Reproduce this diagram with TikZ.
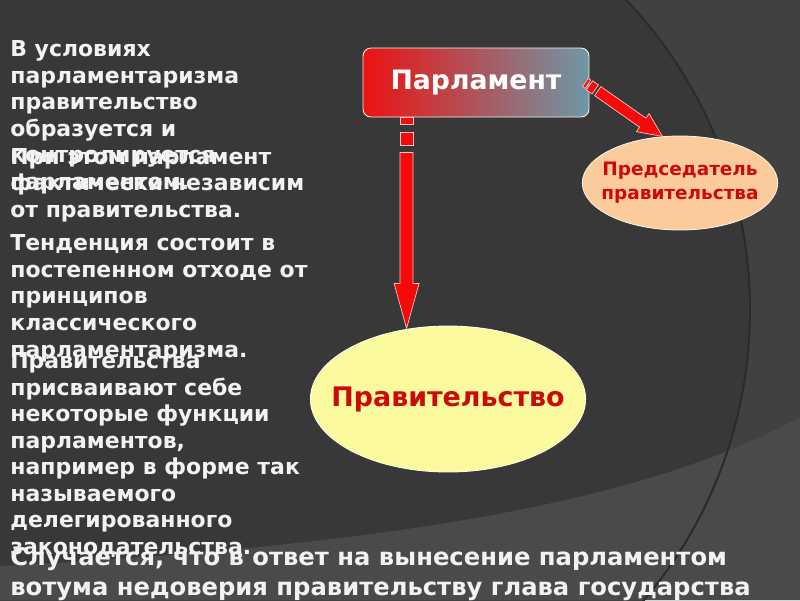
\documentclass[tikz,border=0pt]{standalone}
\usepackage{fontspec}
\setmainfont{DejaVu Sans}
\usetikzlibrary{calc,positioning,shapes.geometric}
\definecolor{slate}{HTML}{383838}
\definecolor{slatelight}{HTML}{414141}
\definecolor{slateband}{HTML}{4A4A4A}
\definecolor{arcline}{HTML}{2A2A2A}
\definecolor{chalk}{HTML}{F2F2F2}
\definecolor{parlred}{HTML}{EC1212}
\definecolor{parlmid}{HTML}{CA3844}
\definecolor{parlteal}{HTML}{6E98A6}
\definecolor{arrred}{HTML}{F50A0A}
\definecolor{peach}{HTML}{FCCB9B}
\definecolor{paleyellow}{HTML}{FCFA9E}
\definecolor{darkred}{HTML}{CC0A0A}
\tikzset{
  slidetext/.style={anchor=base west,align=left,inner sep=0pt,text=chalk,
                    font=\bfseries\fontsize{12.5}{15.1}\selectfont},
  parlbox/.style={draw=white!90!gray,line width=0.5pt,rounded corners=4.5pt,
                  left color=parlred,middle color=parlmid,right color=parlteal,
                  minimum width=4.52cm,minimum height=1.38cm,text=white,
                  font=\bfseries\fontsize{15.2}{16}\selectfont},
  chairell/.style={ellipse,draw=white!70!peach,fill=peach,line width=0.5pt,
                   minimum width=3.9cm,minimum height=1.88cm,
                   inner xsep=-5.4pt,inner ysep=0pt,
                   align=center,text=darkred,
                   font=\bfseries\fontsize{10.5}{13.6}\selectfont},
  govell/.style={ellipse,draw=white!70!paleyellow,fill=paleyellow,line width=0.5pt,
                 minimum width=5.4cm,minimum height=2.92cm,
                 inner xsep=-11pt,inner ysep=0pt,
                 text=darkred,font=\bfseries\fontsize{15.3}{16}\selectfont},
  arrowbody/.style={fill=arrred,draw=white!75!red,line width=0.4pt,line join=miter}
}
\begin{document}
\begin{tikzpicture}[x=0.02cm,y=-0.02cm]
  \useasboundingbox (0,0) rectangle (800,600);
  % slide background
  \fill[slate] (0,0) rectangle (800,600);
  \begin{scope}
    \clip (0,0) rectangle (800,600);
    \fill[slatelight,even odd rule] (0,0) rectangle (800,600) (300,310) circle (450);
    \fill[slateband] (0,566) .. controls (400,545) and (650,500) .. (800,417)
      -- (800,600) -- (0,600) -- cycle;
    \draw[arcline,line width=1.1pt] (300,310) circle (450);
  \end{scope}

  % diagram
  \node[parlbox] (parl) at (476,82.5) {Парламент};
  \node[chairell] (chair) at (680,183) {Председатель\\правительства};
  \node[govell] (gov) at (448,399) {Правительство};

  \coordinate (vstart) at ($(parl.south west)+(44,0)$);
  \coordinate (dstart) at ($(parl.east)+(-4,0)$);
  \begin{scope}[shift={(vstart)},rotate=-90]
    \draw[arrowbody] (0,-6.5) rectangle (7,6.5);
    \draw[arrowbody] (15,-6.5) rectangle (28,6.5);
    \draw[arrowbody] (35,-6.5) -- (166,-6.5) -- (166,-12.5) -- (211,0)
      -- (166,12.5) -- (166,6.5) -- (35,6.5) -- cycle;
  \end{scope}
  \begin{scope}[shift={(dstart)},rotate=-35]
    \draw[arrowbody] (0,-5) rectangle (3,5);
    \draw[arrowbody] (5,-5.5) rectangle (12,5.5);
    \draw[arrowbody] (15,-5.5) -- (70,-5.5) -- (70,-11) -- (94,0)
      -- (70,11) -- (70,5.5) -- (15,5.5) -- cycle;
  \end{scope}

  % text blocks (anchored at the baseline of their last line)
  \node[slidetext] (cond) at (10,189.5)
    {В условиях\\парламентаризма\\правительство\\образуется и\\контролируется\\парламентом.};
  \node[slidetext] (indep) at (10,357)
    {При этом парламент\\фактически независим\\от правительства.\\[4.1pt]
     Тенденция состоит в\\постепенном отходе от\\принципов\\классического\\парламентаризма.};
  \node[slidetext] (deleg) at (10,554.5)
    {Правительства\\присваивают себе\\некоторые функции\\парламентов,\\например в форме так\\называемого\\делегированного\\законодательства.};
  \node[slidetext,font=\bfseries\fontsize{13.8}{17}\selectfont] (vote) at (10,595)
    {Случается, что в ответ на вынесение парламентом\\вотума недоверия правительству глава государства};
\end{tikzpicture}
\end{document}
